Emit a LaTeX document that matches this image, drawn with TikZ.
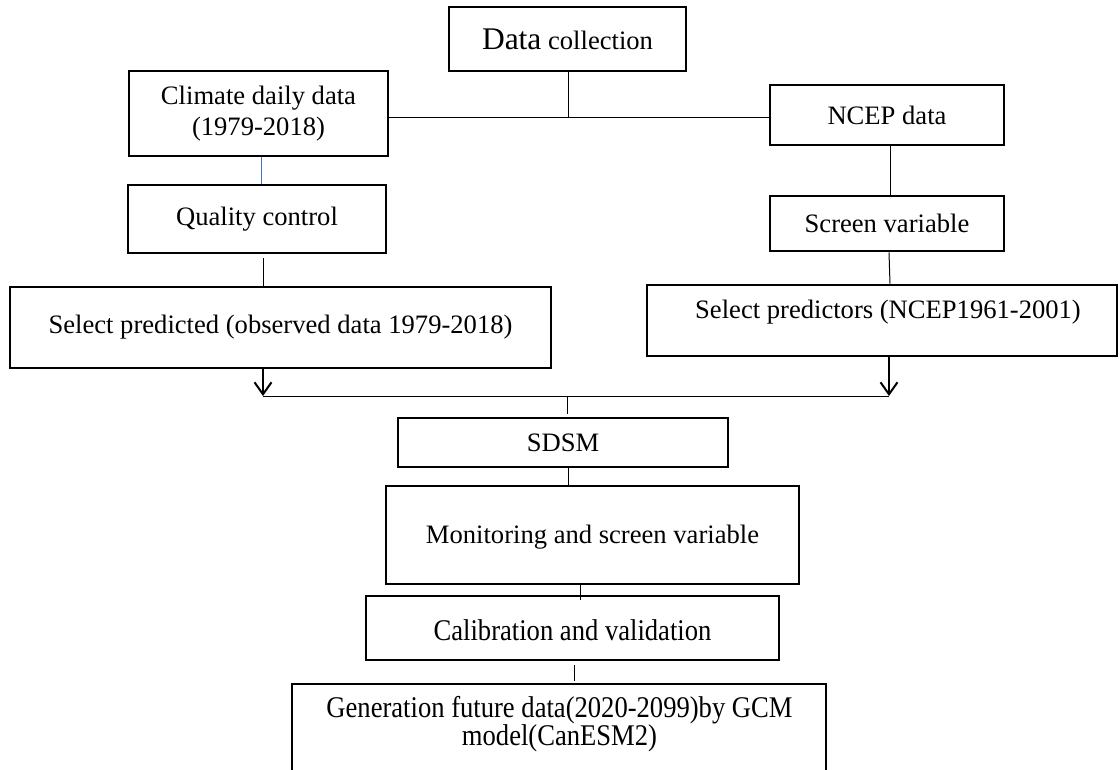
\documentclass[tikz,border=0pt]{standalone}
\usepackage{fontspec}
\setmainfont{Liberation Serif}
\usetikzlibrary{arrows.meta}
\definecolor{linkblue}{RGB}{68,114,196}
\newcommand{\tallbox}[1]{\scalebox{1}[1.13]{#1}}
\begin{document}
\begin{tikzpicture}[x=1pt, y=-1pt,
  box/.style={draw, line width=2.6pt, inner sep=0pt, align=center, font=\fontsize{26.6}{31}\selectfont},
  lbl/.style={inner sep=0pt, align=center, font=\fontsize{26.6}{31}\selectfont},
  conn/.style={line width=1pt},
  blueconn/.style={line width=1pt, draw=linkblue},
  arr/.style={line width=2pt, -{Straight Barb[length=12pt,width=17pt,line width=2pt]}}]
\useasboundingbox (0,0) rectangle (1120,769);
\fill[white] (0,0) rectangle (1120,769);
% boxes
\node[box, minimum width=237, minimum height=64] (dc) at (567.5,39) {{\fontsize{31.5}{36}\selectfont Data} collection};
\node[box, minimum width=259, minimum height=85] (cl) at (258.5,113.5) {Climate daily data\\(1979-2018)};
\node[box, minimum width=234, minimum height=60] (nc) at (887,115) {NCEP data};
\node[box, minimum width=258, minimum height=68] (qc) at (257,219) {Quality control};
\node[box, minimum width=234, minimum height=55] (sv) at (887,223.5) {Screen variable};
\node[box, minimum width=541, minimum height=81] (sp) at (280.5,327.5) {Select predicted (observed data 1979-2018)};
\node[box, minimum width=470, minimum height=71] (sq) at (882,320.5) {};
\node[lbl] (sqt) at (888,312) {Select predictors (NCEP1961-2001)};
\node[box, minimum width=330, minimum height=49] (sd) at (563,442.5) {SDSM};
\node[box, minimum width=413, minimum height=98] (mo) at (592.5,535) {};
\node[lbl] (mot) at (592.5,537) {Monitoring and screen variable};
\node[box, minimum width=413, minimum height=64] (ca) at (572.5,628) {};
\node[lbl] (cat) at (572.5,630) {\tallbox{Calibration and validation}};
\node[box, minimum width=534, minimum height=110] (ge) at (559,739) {};
\node[lbl] (get) at (559.5,724.5) {\tallbox{\fontsize{26.6}{22}\selectfont\begin{tabular}{@{}c@{}}Generation future data(2020-2099)by GCM\\model(CanESM2)\end{tabular}}};
% junction coordinates
\coordinate (j1) at (568,117);
\coordinate (la) at (263,396);
\coordinate (ra) at (889,396);
\coordinate (jm) at (567,396);
\coordinate (x1) at (261,0);
\coordinate (x2) at (263,0);
\coordinate (x3) at (890,0);
\coordinate (x4) at (568,0);
\coordinate (x5) at (580,0);
\coordinate (x6) at (574,0);
% connectors
\draw[conn] (dc.south -| j1) -- (j1);
\draw[conn] (cl.east |- j1) -- (nc.west |- j1);
\draw[blueconn] (cl.south -| x1) -- (qc.north -| x1);
\draw[conn] ([yshift=-4]qc.south -| x2) -- (sp.north -| x2);
\draw[conn] (nc.south -| x3) -- (sv.north -| x3);
\draw[conn] (sv.south -| ra) -- (sq.north -| x3);
\draw[arr] (sp.south -| la) -- (la);
\draw[arr] (sq.south -| ra) -- (ra);
\draw[conn] (la) -- (ra);
\draw[conn] (jm) -- ([yshift=3]sd.north -| jm);
\draw[conn] (sd.south -| x4) -- (mo.north -| x4);
\draw[conn] ([yshift=2]mo.south -| x5) -- ([yshift=-5]ca.north -| x5);
\draw[conn] ([yshift=-4]ca.south -| x6) -- ([yshift=2]ge.north -| x6);
\end{tikzpicture}
\end{document}
